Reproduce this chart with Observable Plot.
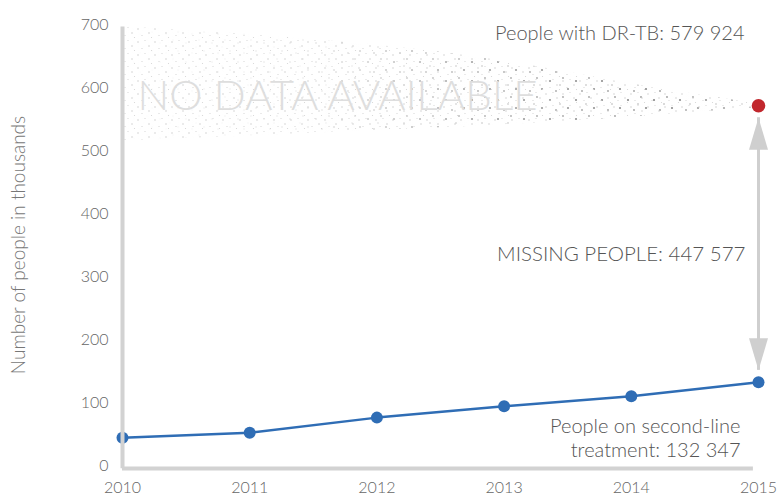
<!DOCTYPE html>
<html>
<head>
<meta charset="utf-8">
<script src="https://cdn.jsdelivr.net/npm/d3@7"></script>
<script src="https://cdn.jsdelivr.net/npm/@observablehq/plot@0.6"></script>
<style>
  html, body { margin: 0; padding: 0; background: #fff; }
  g[aria-label^="x-axis"] text, g[aria-label^="y-axis"] text { font-weight: 300; fill: #666; font-size: 16px; }
</style>
</head>
<body>
<div id="chart"></div>
<script>
// ---- data ----
const years = [2010, 2011, 2012, 2013, 2014, 2015];
const treated = [44, 52, 76, 94, 110, 132.3];          // people on second-line treatment (thousands)
const drTbYear = [2015];
const drTbValue = [571];                                 // people with DR-TB (thousands, as drawn)
const cloudTop = [697, 684, 667, 642, 606, 574];         // "no data" cloud upper edge
const cloudBottom = [515, 523, 532, 541, 553, 568];      // "no data" cloud lower edge
const arrowEnds = [552, 151];                            // missing-people arrow (top tip, bottom tip)
const yTicks = [0, 100, 200, 300, 400, 500, 600, 700];
const labelTexts = [
  "People with DR-TB: 579 924",
  "MISSING PEOPLE: 447 577",
  "People on second-line\ntreatment: 132 347"
];
const labelValues = [686, 335, 44.5];
const noDataText = "NO DATA AVAILABLE";
const noDataValue = [585];
const axisTitle = "Number of people in thousands";

// ---- tables built from arrays ----
const series = years.map((y, i) => ({year: y, value: treated[i]}));
const cloud = years.map((y, i) => ({year: y, top: cloudTop[i], bottom: cloudBottom[i]}));
const drTb = drTbYear.map((y, i) => ({year: y, value: drTbValue[i]}));
const arrowShaft = [{year: drTbYear[0], y1: arrowEnds[1], y2: arrowEnds[0]}];

const headUp = {draw(ctx) { ctx.moveTo(0, 0); ctx.lineTo(9.5, 32); ctx.lineTo(-9.5, 32); ctx.closePath(); }};
const headDown = {draw(ctx) { ctx.moveTo(0, 0); ctx.lineTo(9.5, -32); ctx.lineTo(-9.5, -32); ctx.closePath(); }};

const textFont = "Lato, 'Open Sans', sans-serif";

const chart = Plot.plot({
  width: 778,
  height: 500,
  marginLeft: 122,
  marginRight: 20,
  marginTop: 24,
  marginBottom: 35,
  style: {fontFamily: textFont, fontSize: "16px", color: "#666", background: "white"},
  x: {domain: [2010, 2015], ticks: years, tickFormat: d3.format("d"), tickSize: 0, tickPadding: 16, label: null},
  y: {domain: [0, 700], ticks: yTicks, tickSize: 0, tickPadding: 14, label: null},
  marks: [
    // no-data cloud
    Plot.areaY(cloud, {x: "year", y1: "bottom", y2: "top", curve: "natural", fill: "url(#cloudFill)"}),
    Plot.text([noDataText], {x: () => years[0], y: () => noDataValue[0], text: d => d, textAnchor: "start", dx: 15,
      fontSize: 42, fontWeight: 300, fill: "#dedede", fontFamily: textFont}),
    // missing-people arrow
    Plot.ruleX(arrowShaft, {x: "year", y1: "y1", y2: "y2", stroke: "#cfcfcf", strokeWidth: 3}),
    Plot.dot(arrowShaft, {x: "year", y: "y2", symbol: headUp, fill: "#cfcfcf", stroke: null, r: 1}),
    Plot.dot(arrowShaft, {x: "year", y: "y1", symbol: headDown, fill: "#cfcfcf", stroke: null, r: 1}),
    // treatment series
    Plot.line(series, {x: "year", y: "value", stroke: "#2f6db5", strokeWidth: 2.5}),
    Plot.dot(series, {x: "year", y: "value", fill: "#2f6db5", r: 6}),
    // axis lines
    Plot.ruleX([years[0]], {y1: -5, y2: 696, stroke: "#d2d2d2", strokeWidth: 4}),
    Plot.ruleY([0], {x1: years[0], x2: 2014.96, stroke: "#d2d2d2", strokeWidth: 4, dy: 3}),
    // DR-TB point
    Plot.dot(drTb, {x: "year", y: "value", fill: "#c1272d", r: 6.8}),
    // annotations
    Plot.text([labelTexts[0]], {x: () => years[5], y: () => labelValues[0], text: d => d, textAnchor: "end", dx: -14,
      fontSize: 20, fill: "#555", fontWeight: 300}),
    Plot.text([labelTexts[1]], {x: () => years[5], y: () => labelValues[1], text: d => d, textAnchor: "end", dx: -13,
      fontSize: 20.5, fill: "#555", fontWeight: 300}),
    Plot.text([labelTexts[2]], {x: () => years[5], y: () => labelValues[2], text: d => d, textAnchor: "end", dx: -18,
      fontSize: 20, fill: "#555", fontWeight: 300, lineHeight: 1.2}),
    // axis title
    Plot.text([axisTitle], {frameAnchor: "left", textAnchor: "middle", text: d => d, rotate: -90, dx: -104,
      fontSize: 19, fill: "#777", fontWeight: 300})
  ]
});

// texture for the "no data" cloud: dark dots faded out toward the left, light dots everywhere
const xs = chart.scale("x");
const gx0 = xs.apply(years[0]);
const gx1 = xs.apply(years[years.length - 1]);
d3.select(chart).insert("defs", ":first-child").html(`
  <pattern id="dotsLight" patternUnits="userSpaceOnUse" width="17" height="13">
    <circle cx="2" cy="3" r="0.7" fill="#c8c8c8"/>
    <circle cx="9" cy="1.5" r="0.6" fill="#d2d2d2"/>
    <circle cx="13" cy="7" r="0.7" fill="#c8c8c8"/>
    <circle cx="6" cy="9.5" r="0.6" fill="#d0d0d0"/>
    <circle cx="15.5" cy="11.5" r="0.6" fill="#d4d4d4"/>
  </pattern>
  <pattern id="dotsDark" patternUnits="userSpaceOnUse" width="26" height="19">
    <circle cx="4" cy="5" r="1.1" fill="#858585"/>
    <circle cx="17" cy="2" r="0.9" fill="#999"/>
    <circle cx="22" cy="13" r="1.1" fill="#8a8a8a"/>
    <circle cx="10" cy="15" r="0.9" fill="#9a9a9a"/>
    <circle cx="14" cy="9" r="0.8" fill="#aaa"/>
  </pattern>
  <linearGradient id="whiteFade" gradientUnits="userSpaceOnUse" x1="${gx0}" x2="${gx1}" y1="0" y2="0">
    <stop offset="0" stop-color="#fff" stop-opacity="1"/>
    <stop offset="0.3" stop-color="#fff" stop-opacity="0.85"/>
    <stop offset="0.55" stop-color="#fff" stop-opacity="0.25"/>
    <stop offset="0.85" stop-color="#fff" stop-opacity="0"/>
    <stop offset="1" stop-color="#fff" stop-opacity="0.4"/>
  </linearGradient>
  <pattern id="cloudFill" patternUnits="userSpaceOnUse" x="0" y="0" width="778" height="500">
    <rect x="0" y="0" width="778" height="500" fill="url(#dotsDark)"/>
    <rect x="0" y="0" width="778" height="500" fill="url(#whiteFade)"/>
    <rect x="0" y="0" width="778" height="500" fill="url(#dotsLight)"/>
  </pattern>
`);

document.getElementById("chart").appendChild(chart);
</script>
</body>
</html>
